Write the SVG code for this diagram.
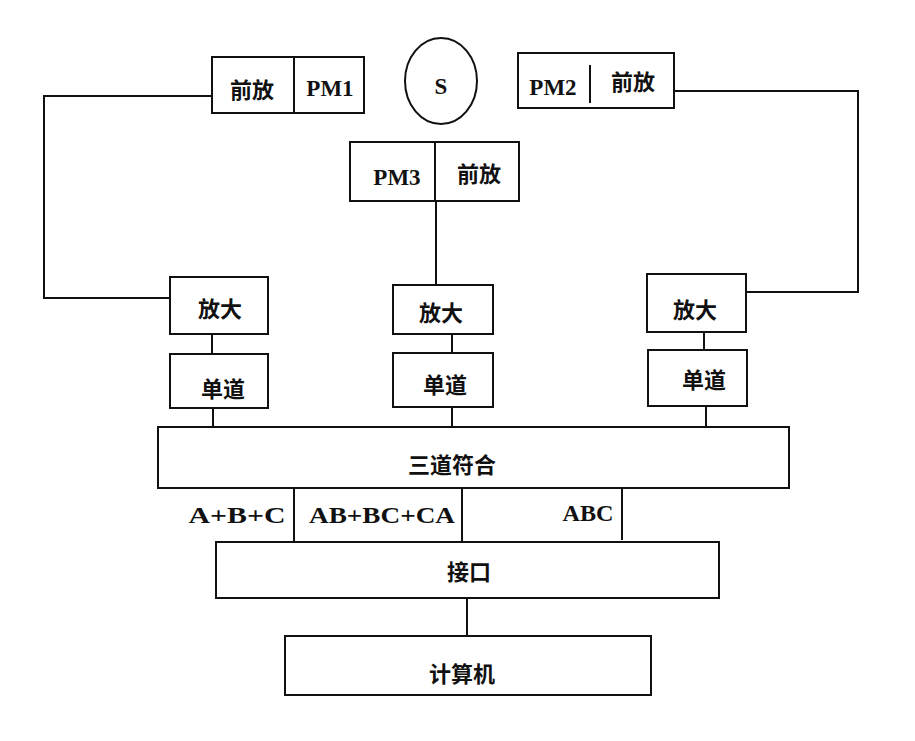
<svg xmlns="http://www.w3.org/2000/svg" width="915" height="741" viewBox="0 0 915 741">
<style>
.box{fill:#fff;stroke:#111;stroke-width:2}
.ln{fill:none;stroke:#111;stroke-width:2}
.lat{font-family:"Liberation Serif","Noto Sans CJK SC",serif;font-weight:bold;font-size:23px;fill:#111;text-anchor:middle;dominant-baseline:central}
.cjk{font-family:"Noto Sans CJK SC","Liberation Sans",sans-serif;font-weight:bold;font-size:22px;fill:#111;text-anchor:middle;dominant-baseline:central}
</style>
<rect width="915" height="741" fill="#fff"/>
<g id="connectors">
<polyline class="ln" points="212,96 44,96 44,298 170,298"/>
<polyline class="ln" points="674,91 858,91 858,292 746,292"/>
<line class="ln" x1="436" y1="201" x2="436" y2="285"/>
<line class="ln" x1="212" y1="334" x2="212" y2="354"/>
<line class="ln" x1="452" y1="334" x2="452" y2="353"/>
<line class="ln" x1="704" y1="332" x2="704" y2="350"/>
<line class="ln" x1="213" y1="408" x2="213" y2="427"/>
<line class="ln" x1="452" y1="407" x2="452" y2="427"/>
<line class="ln" x1="706" y1="406" x2="706" y2="427"/>
<line class="ln" x1="294" y1="488" x2="294" y2="542"/>
<line class="ln" x1="462" y1="488" x2="462" y2="542"/>
<line class="ln" x1="622" y1="484" x2="622" y2="540"/>
<line class="ln" x1="467" y1="598" x2="467" y2="636"/>
</g>
<g id="pm1">
<rect class="box" x="212" y="57" width="152" height="56"/>
<line class="ln" x1="294" y1="57" x2="294" y2="113"/>
<text class="cjk" x="252" y="88">前放</text>
<text class="lat" x="330" y="88">PM1</text>
</g>
<g id="source">
<ellipse class="box" cx="441" cy="81" rx="36" ry="43"/>
<text class="lat" x="441" y="86">S</text>
</g>
<g id="pm2">
<rect class="box" x="518" y="53" width="156" height="55"/>
<line class="ln" x1="590" y1="65" x2="590" y2="103"/>
<text class="lat" x="553" y="87">PM2</text>
<text class="cjk" x="633" y="80">前放</text>
</g>
<g id="pm3">
<rect class="box" x="350" y="142" width="169" height="59"/>
<line class="ln" x1="435" y1="142" x2="435" y2="201"/>
<text class="lat" x="397" y="177">PM3</text>
<text class="cjk" x="479" y="172">前放</text>
</g>
<g id="amp1">
<rect class="box" x="170" y="277" width="98" height="57"/>
<text class="cjk" x="220" y="307">放大</text>
</g>
<g id="amp3">
<rect class="box" x="393" y="285" width="100" height="49"/>
<text class="cjk" x="441" y="311">放大</text>
</g>
<g id="amp2">
<rect class="box" x="647" y="274" width="99" height="58"/>
<text class="cjk" x="695" y="308">放大</text>
</g>
<g id="sca1">
<rect class="box" x="170" y="354" width="98" height="54"/>
<text class="cjk" x="223" y="387">单道</text>
</g>
<g id="sca3">
<rect class="box" x="393" y="353" width="100" height="54"/>
<text class="cjk" x="445" y="383">单道</text>
</g>
<g id="sca2">
<rect class="box" x="648" y="350" width="99" height="56"/>
<text class="cjk" x="704" y="378">单道</text>
</g>
<g id="coinc">
<rect class="box" x="158" y="427" width="631" height="61"/>
<text class="cjk" x="452" y="463">三道符合</text>
</g>
<g id="labels">
<text class="lat" x="237" y="515" textLength="97" lengthAdjust="spacingAndGlyphs">A+B+C</text>
<text class="lat" x="382" y="515" textLength="146" lengthAdjust="spacingAndGlyphs">AB+BC+CA</text>
<text class="lat" x="588" y="513" textLength="51" lengthAdjust="spacingAndGlyphs">ABC</text>
</g>
<g id="interface">
<rect class="box" x="216" y="542" width="503" height="56"/>
<text class="cjk" x="469" y="570">接口</text>
</g>
<g id="computer">
<rect class="box" x="285" y="636" width="366" height="59"/>
<text class="cjk" x="462" y="672">计算机</text>
</g>
</svg>
